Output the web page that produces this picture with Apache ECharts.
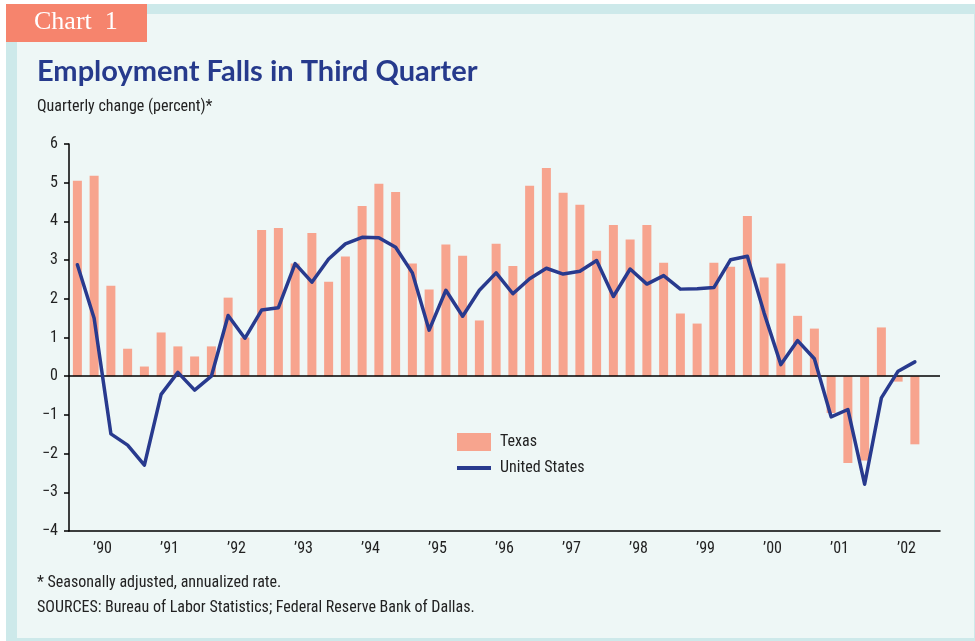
<!DOCTYPE html>
<html>
<head>
<meta charset="utf-8">
<style>
  html, body { margin: 0; padding: 0; background: #fff; }
  #main { width: 975px; height: 641px; }
</style>
<script src="https://cdn.jsdelivr.net/npm/echarts@6/dist/echarts.min.js"></script>
</head>
<body>
<div id="main"></div>
<script>
  // quarterly change, percent (1990:Q1 - 2002:Q3)
  var years = ['\u201990', '\u201991', '\u201992', '\u201993', '\u201994', '\u201995', '\u201996',
    '\u201997', '\u201998', '\u201999', '\u201900', '\u201901', '\u201902']
  var texas = [5.05, 5.18, 2.34, 0.71, 0.25, 1.13, 0.77, 0.51, 0.77, 2.03,
    1.00, 3.78, 3.83, 2.91, 3.70, 2.44, 3.09, 4.40, 4.97, 4.76,
    2.91, 2.24, 3.40, 3.11, 1.44, 3.42, 2.85, 4.92, 5.38, 4.74,
    4.43, 3.24, 3.91, 3.53, 3.91, 2.93, 1.62, 1.36, 2.93, 2.83,
    4.14, 2.55, 2.91, 1.56, 1.23, -0.95, -2.24, -2.18, 1.26, -0.14, -1.76]
  var unitedStates = [2.88, 1.50, -1.49, -1.78, -2.30, -0.47, 0.10, -0.36, 0.00, 1.57,
    0.98, 1.71, 1.77, 2.91, 2.43, 3.03, 3.42, 3.59, 3.58, 3.33,
    2.67, 1.19, 2.22, 1.55, 2.22, 2.67, 2.13, 2.52, 2.79, 2.64,
    2.71, 2.99, 2.06, 2.77, 2.38, 2.60, 2.25, 2.26, 2.29, 3.01,
    3.10, 1.63, 0.30, 0.92, 0.45, -1.05, -0.86, -2.79, -0.56, 0.13, 0.37]

  var quarters = []
  years.forEach(function (y) {
    ['Q1', 'Q2', 'Q3', 'Q4'].forEach(function (q) { quarters.push(y + q) })
  })

  var narrow = "'Liberation Sans Narrow', 'Roboto Condensed', Roboto, sans-serif"
  var ink = '#222'

  var chart = echarts.init(document.getElementById('main'))
  chart.setOption({
    animation: false,
    backgroundColor: '#fff',
    textStyle: { fontFamily: narrow },
    graphic: [
      // frame
      { type: 'rect', shape: { x: 6, y: 4, width: 969, height: 637 }, style: { fill: '#cde9ea' }, silent: true, z: -10 },
      { type: 'rect', shape: { x: 17, y: 14, width: 957, height: 624 }, style: { fill: '#eef7f6' }, silent: true, z: -9 },
      { type: 'rect', shape: { x: 6, y: 4, width: 141, height: 38 }, style: { fill: '#f6846d' }, silent: true, z: -8 },
      { type: 'text', left: 34, top: 9, style: { text: 'Chart  1', fill: '#fff', font: "26px 'Liberation Serif', serif" }, silent: true },
      { type: 'text', left: 37, top: 57, style: { text: 'Employment Falls in Third Quarter', fill: '#263a8c', font: "bold 29px Lato, 'Open Sans', sans-serif" }, silent: true },
      { type: 'text', left: 37, top: 99, style: { text: 'Quarterly change (percent)*', fill: ink, font: '16px ' + narrow }, silent: true },
      { type: 'text', left: 37, top: 575, style: { text: '* Seasonally adjusted, annualized rate.', fill: ink, font: '16px ' + narrow }, silent: true },
      { type: 'text', left: 37, top: 600, style: { text: 'SOURCES: Bureau of Labor Statistics; Federal Reserve Bank of Dallas.', fill: ink, font: '16px ' + narrow }, silent: true }
    ],
    legend: {
      orient: 'vertical',
      left: 457,
      top: 433,
      padding: 0,
      itemWidth: 34,
      itemHeight: 18,
      itemGap: 9,
      textStyle: { fontSize: 16, color: ink, fontFamily: narrow, padding: [0, 0, 0, 4] },
      data: [
        { name: 'Texas', icon: 'rect' },
        { name: 'United States', icon: 'path://M0,0 L34,0 L34,4 L0,4 Z' }
      ]
    },
    grid: { left: 69, right: 35, top: 144, bottom: 110, containLabel: false },
    xAxis: [
      {
        type: 'category',
        data: quarters,
        show: false
      },
      {
        type: 'category',
        data: years,
        position: 'bottom',
        axisLine: { lineStyle: { color: '#000', width: 1.5 } },
        axisTick: { length: 6, lineStyle: { color: '#000', width: 1.5 } },
        axisLabel: { color: ink, fontSize: 16, margin: 10, fontFamily: narrow }
      }
    ],
    yAxis: {
      type: 'value',
      min: -4,
      max: 6,
      interval: 1,
      axisLine: { show: true, lineStyle: { color: '#000', width: 1.5 } },
      axisTick: { show: true, length: 5, lineStyle: { color: '#000', width: 1.5 } },
      splitLine: { show: false },
      axisLabel: {
        color: ink,
        fontSize: 16,
        margin: 11,
        fontFamily: narrow,
        formatter: function (v) { return v < 0 ? '\u2212' + Math.abs(v) : String(v) }
      }
    },
    series: [
      {
        name: 'Texas',
        type: 'bar',
        xAxisIndex: 0,
        data: texas,
        barWidth: 9,
        itemStyle: { color: '#f7a48e' },
        markLine: {
          silent: true,
          symbol: 'none',
          label: { show: false },
          lineStyle: { color: '#000', width: 1.5, type: 'solid' },
          data: [{ yAxis: 0 }]
        }
      },
      {
        name: 'United States',
        type: 'line',
        xAxisIndex: 0,
        data: unitedStates,
        symbol: 'none',
        z: 5,
        lineStyle: { color: '#283a8e', width: 3.5, join: 'round', cap: 'round' },
        itemStyle: { color: '#283a8e' }
      }
    ]
  })
</script>
</body>
</html>
